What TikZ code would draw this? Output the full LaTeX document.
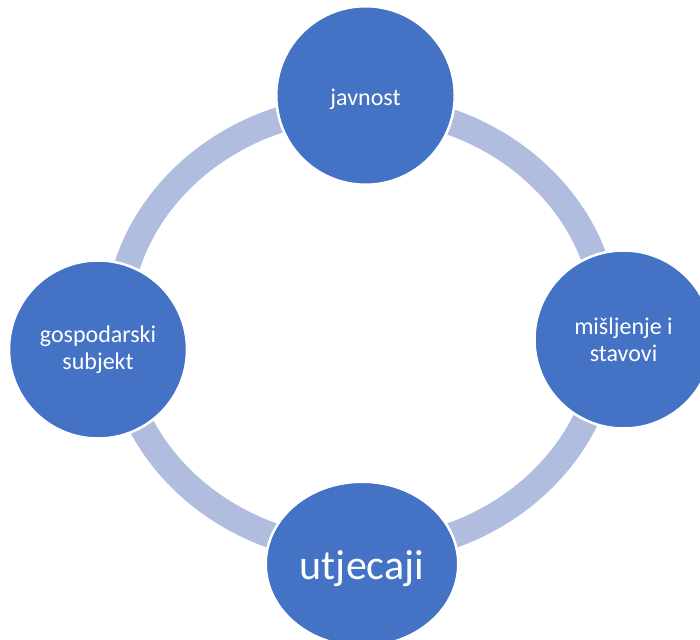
\documentclass[tikz,border=0pt]{standalone}
\usepackage{fontspec}
\setmainfont{Carlito}
\usetikzlibrary{shapes.geometric}
\definecolor{nodeblue}{RGB}{68,114,196}
\definecolor{ringblue}{RGB}{176,189,222}
\begin{document}
\begin{tikzpicture}[x=1pt,y=-1pt,
  cyc/.style={circle, fill=nodeblue, draw=white, line width=2.5pt, inner sep=0pt,
    text=white, align=center, font=\fontsize{24}{27}\selectfont},
  ringline/.style={draw=ringblue, line width=26pt}
]
\useasboundingbox (0,0) rectangle (700,639);
\clip (0,0) rectangle (700,639);
\coordinate (ringc) at (362,329);
\path[ringline] (ringc) ellipse [x radius=245pt, y radius=222pt];
\node[cyc, minimum size=178.5pt, text height=25pt, text depth=5pt] (jav) at (365.5,95.5) {javnost};
\node[cyc, minimum size=178pt] (mis) at (623.5,339.5) {mišljenje i\\stavovi};
\node[cyc, minimum size=178pt] (gos) at (98,349.5) {gospodarski\\subjekt};
\node[cyc, ellipse, minimum width=192.5pt, minimum height=164.5pt,
  font=\fontsize{42}{48}\selectfont, text height=40pt, text depth=8.5pt] (utj) at (362,564) {utjecaji};
\end{tikzpicture}
\end{document}
